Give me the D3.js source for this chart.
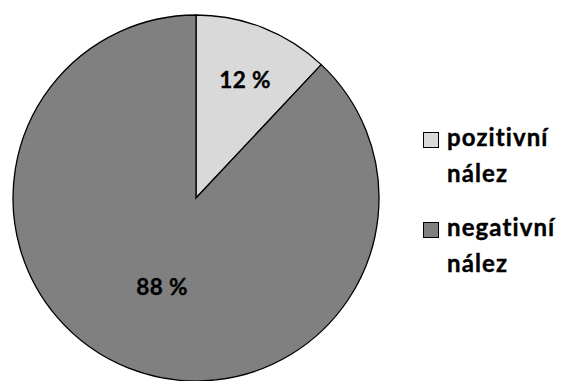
<!DOCTYPE html>
<html><head><meta charset="utf-8">
<script src="https://cdn.jsdelivr.net/npm/d3@7"></script>
<style>body{margin:0;background:#fff}svg{display:block}</style>
</head><body>
<svg id="c" width="563" height="381"></svg>
<script>
const categories = ["pozitivní nález", "negativní nález"];
const values = [12, 88];
const labels = ["12 %", "88 %"];
const colors = ["#d9d9d9", "#808080"];

const svg = d3.select("#c");
const cx = 196, cy = 198, r = 183;
const g = svg.append("g").attr("transform", `translate(${cx},${cy})`);
const pie = d3.pie().sort(null).value(d => d)(values);
const arc = d3.arc().innerRadius(0).outerRadius(r);
g.selectAll("path").data(pie).join("path")
  .attr("d", arc)
  .attr("fill", (d, i) => colors[i])
  .attr("stroke", "#000").attr("stroke-width", 1.3);

const labelPos = [[49, -110], [-34, 97]];
g.selectAll("text.lbl").data(pie).join("text")
  .attr("class", "lbl")
  .attr("x", (d, i) => labelPos[i][0]).attr("y", (d, i) => labelPos[i][1])
  .attr("text-anchor", "middle")
  .attr("font-family", "Lato, 'Open Sans', sans-serif")
  .attr("font-weight", "bold").attr("font-size", 22.5)
  .attr("letter-spacing", 0.4)
  .attr("stroke", "#000").attr("stroke-width", 0.35)
  .attr("fill", "#000")
  .text((d, i) => labels[i]);

const leg = svg.append("g");
categories.forEach((c, i) => {
  const y0 = 132 + i * 90;
  leg.append("rect").attr("x", 423.5).attr("y", y0 + 0.5).attr("width", 15).attr("height", 15)
    .attr("fill", colors[i]).attr("stroke", "#000").attr("stroke-width", 1);
  const words = c.split(" ");
  const t = leg.append("text")
    .attr("font-family", "Lato, 'Open Sans', sans-serif")
    .attr("font-weight", "bold").attr("font-size", 24)
    .attr("letter-spacing", 1.1)
    .attr("stroke", "#000").attr("stroke-width", 0.4)
    .attr("fill", "#000");
  words.forEach((w, j) => {
    t.append("tspan").attr("x", 447).attr("y", y0 + 14 + j * 36).text(w);
  });
});
</script>
</body></html>
